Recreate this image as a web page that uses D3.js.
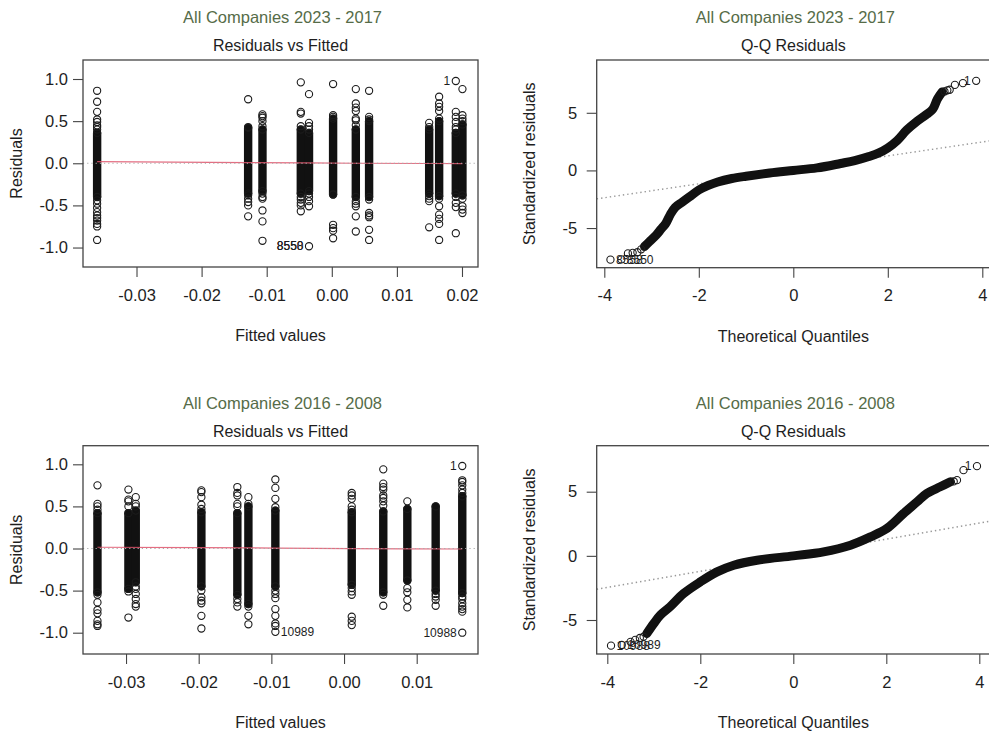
<!DOCTYPE html>
<html>
<head>
<meta charset="utf-8">
<script src="https://cdn.jsdelivr.net/npm/d3@7/dist/d3.min.js"></script>
<style>
  body { margin: 0; background: #fff; }
  text { font-family: "Liberation Sans", Arial, Helvetica, sans-serif; fill: #1e1e1e; }
</style>
</head>
<body>
<div id="chart"></div>
<script>
// ---- top panels: 2023 - 2017 ----
var fit1 = [-0.03605, -0.01285, -0.01065, -0.00476, -0.00350, 0.00020, 0.00369, 0.00573, 0.01496, 0.01649, 0.01905, 0.02007];
var coreLo1 = [-0.40, -0.36, -0.33, -0.36, -0.33, -0.37, -0.40, -0.40, -0.36, -0.39, -0.36, -0.38];
var coreHi1 = [0.36, 0.42, 0.40, 0.40, 0.36, 0.53, 0.40, 0.50, 0.40, 0.50, 0.36, 0.46];
var extra1 = [
  [0.86, 0.73, 0.61, 0.52, 0.49, 0.45, 0.43, 0.40, -0.44, -0.48, -0.53, -0.58, -0.62, -0.65, -0.68, -0.72, -0.75, -0.91],
  [0.76, 0.43, -0.38, -0.42, -0.46, -0.50, -0.63],
  [0.58, 0.56, 0.54, 0.50, 0.44, -0.36, -0.40, -0.42, -0.56, -0.69, -0.92],
  [0.96, 0.61, 0.59, 0.44, -0.40, -0.43, -0.47, -0.50, -0.57],
  [0.82, 0.48, 0.44, 0.40, -0.36, -0.40, -0.45, -0.51, -0.985],
  [0.94, 0.57, 0.55, -0.73, -0.77, -0.80, -0.89],
  [0.88, 0.71, 0.66, 0.62, 0.53, 0.51, 0.45, -0.45, -0.48, -0.51, -0.63, -0.81],
  [0.86, 0.55, 0.52, -0.43, -0.59, -0.62, -0.64, -0.79, -0.91],
  [0.48, 0.43, -0.39, -0.42, -0.45, -0.76],
  [0.79, 0.71, 0.67, 0.62, 0.53, -0.42, -0.51, -0.61, -0.66, -0.72, -0.91],
  [0.976, 0.61, 0.55, 0.49, 0.43, 0.40, -0.40, -0.47, -0.52, -0.83],
  [0.88, 0.57, 0.53, 0.50, -0.42, -0.51, -0.55, -0.59]
];
var smoothX1 = [-0.03605, -0.01285, -0.004, 0.0037, 0.015, 0.02007];
var smoothY1 = [0.02, 0.008, 0.004, 0.0, -0.003, -0.005];
var idLabels1 = [{c: 4, r: -0.985, t: "8558"}, {c: 4, r: -0.985, t: "8550"}, {c: 10, r: 0.976, t: "1"}];

var bandQ2 = [-3.15, -3.05, -2.9, -2.8, -2.7, -2.6, -2.5, -2.35, -2.2, -2.0, -1.8, -1.6, -1.3, -1.0, -0.5, 0, 0.5, 1.0, 1.3, 1.6, 1.8, 2.0, 2.2, 2.4, 2.6, 2.8, 2.95, 3.05, 3.15];
var bandS2 = [-6.6, -6.2, -5.6, -5.1, -4.6, -3.8, -3.2, -2.75, -2.3, -1.7, -1.3, -1.0, -0.7, -0.5, -0.22, 0, 0.22, 0.6, 0.85, 1.2, 1.5, 1.95, 2.6, 3.5, 4.2, 4.8, 5.3, 6.2, 6.8];
var tailQ2 = [-3.87, -3.64, -3.5, -3.4, -3.3, -3.22, 3.2, 3.26, 3.31, 3.42, 3.59, 3.87];
var tailS2 = [-7.74, -7.72, -7.2, -7.15, -7.1, -6.85, 6.85, 6.95, 7.0, 7.42, 7.57, 7.77];
var qqLabels2 = [{i: 0, t: "8558"}, {i: 1, t: "8550"}, {i: 11, t: "1"}];
var qqLine2 = {intercept: 0.05, slope: 0.605};

// ---- bottom panels: 2016 - 2008 ----
var fit3 = [-0.03393, -0.02967, -0.02866, -0.01963, -0.01468, -0.01316, -0.00945, 0.00106, 0.00540, 0.00871, 0.01261, 0.01627];
var coreLo3 = [-0.52, -0.48, -0.40, -0.45, -0.55, -0.66, -0.45, -0.43, -0.52, -0.38, -0.50, -0.53];
var coreHi3 = [0.42, 0.42, 0.45, 0.43, 0.42, 0.50, 0.45, 0.43, 0.44, 0.47, 0.50, 0.62];
var extra3 = [
  [0.75, 0.53, 0.50, 0.46, -0.55, -0.64, -0.73, -0.77, -0.86, -0.90, -0.92],
  [0.70, 0.58, 0.56, 0.50, -0.51, -0.82],
  [0.61, 0.53, 0.50, -0.45, -0.48, -0.54, -0.60, -0.66, -0.69],
  [0.69, 0.67, 0.61, 0.52, 0.47, -0.50, -0.58, -0.62, -0.65, -0.80, -0.95],
  [0.73, 0.66, 0.63, 0.53, 0.50, -0.60, -0.64, -0.69],
  [0.61, 0.53, -0.69, -0.80, -0.90],
  [0.82, 0.72, 0.59, 0.49, -0.50, -0.54, -0.59, -0.72, -0.80, -0.89, -0.92, -0.99],
  [0.66, 0.63, 0.59, 0.50, 0.46, -0.47, -0.51, -0.55, -0.81, -0.86, -0.91],
  [0.94, 0.77, 0.73, 0.70, 0.63, 0.60, 0.56, 0.51, -0.55, -0.68],
  [0.56, -0.47, -0.52, -0.61, -0.70],
  [-0.54, -0.57, -0.61, -0.68],
  [0.98, 0.81, 0.79, 0.75, 0.70, 0.66, -0.57, -0.60, -0.65, -0.69, -0.72, -0.75, -1.0]
];
var smoothX3 = [-0.03393, -0.01963, -0.00945, 0.00106, 0.00871, 0.01627];
var smoothY3 = [0.015, 0.01, 0.005, -0.002, -0.005, -0.006];
var idLabels3 = [{c: 6, r: -0.99, t: "10989"}, {c: 11, r: -1.0, t: "10988"}, {c: 11, r: 0.98, t: "1"}];

var bandQ4 = [-3.15, -3.0, -2.86, -2.65, -2.36, -2.0, -1.64, -1.28, -0.78, 0, 0.65, 1.23, 1.66, 2.01, 2.37, 2.66, 2.87, 3.16, 3.38];
var bandS4 = [-6.05, -5.27, -4.62, -3.97, -2.94, -2.03, -1.25, -0.73, -0.34, 0, 0.31, 0.83, 1.48, 2.13, 3.3, 4.2, 4.86, 5.38, 5.77];
var tailQ4 = [-3.92, -3.69, -3.5, -3.4, -3.3, -3.22, 3.45, 3.52, 3.66, 3.95];
var tailS4 = [-7.0, -6.95, -6.7, -6.55, -6.4, -6.3, 5.8, 5.9, 6.68, 6.99];
var qqLabels4 = [{i: 0, t: "10988"}, {i: 1, t: "10989"}, {i: 9, t: "1"}];
var qqLine4 = {intercept: 0.05, slope: 0.627};

var fitTicks1 = [-0.03, -0.02, -0.01, 0.00, 0.01, 0.02];
var fitTicks3 = [-0.03, -0.02, -0.01, 0.00, 0.01];
var resTicks = [-1.0, -0.5, 0.0, 0.5, 1.0];
var qTicks = [-4, -2, 0, 2, 4];
var sTicks = [-5, 0, 5];

var subtitles = ["All Companies 2023 - 2017", "All Companies 2016 - 2008"];

var svg = d3.select("#chart").append("svg")
  .attr("width", 989)
  .attr("height", 731);

var R = 3.6;

function panel(p) {
  var g = svg.append("g");
  var x = d3.scaleLinear().domain(p.xd).range([p.x0, p.x1]);
  var y = d3.scaleLinear().domain(p.yd).range([p.y1, p.y0]);
  var cx = (p.x0 + p.x1) / 2, cy = (p.y0 + p.y1) / 2;

  g.append("clipPath").attr("id", p.id)
    .append("rect").attr("x", p.x0).attr("y", p.y0)
    .attr("width", p.x1 - p.x0).attr("height", p.y1 - p.y0);

  // titles
  g.append("text").attr("x", cx + 2).attr("y", p.y0 - 37)
    .attr("text-anchor", "middle").style("font-size", "16.5px").style("fill", "#566c48")
    .text(p.sub);
  g.append("text").attr("x", cx).attr("y", p.y0 - 9)
    .attr("text-anchor", "middle").style("font-size", "16px")
    .text(p.title);
  g.append("text").attr("x", cx).attr("y", p.y1 + 74)
    .attr("text-anchor", "middle").style("font-size", "16px")
    .text(p.xlab);
  g.append("text")
    .attr("transform", "translate(" + p.ylabX + "," + cy + ") rotate(-90)")
    .attr("text-anchor", "middle").style("font-size", "16px")
    .text(p.ylab);

  // axes
  var ax = g.append("g").attr("transform", "translate(0," + p.y1 + ")")
    .call(d3.axisBottom(x).tickValues(p.xt).tickFormat(p.xf).tickSize(10).tickPadding(12));
  var ay = g.append("g").attr("transform", "translate(" + p.x0 + ",0)")
    .call(d3.axisLeft(y).tickValues(p.yt).tickFormat(p.yf).tickSize(10).tickPadding(p.yPad));
  [ax, ay].forEach(function(a) {
    a.select(".domain").remove();
    a.selectAll(".tick line").attr("stroke", "#444").attr("stroke-width", 1.1);
    a.selectAll(".tick text").style("font-size", "16.5px").style("font-family", null).attr("fill", null);
  });

  var plot = g.append("g").attr("clip-path", "url(#" + p.id + ")");
  p.draw(plot, x, y);

  g.append("rect").attr("x", p.x0).attr("y", p.y0)
    .attr("width", p.x1 - p.x0).attr("height", p.y1 - p.y0)
    .attr("fill", "none").attr("stroke", "#444").attr("stroke-width", 1.3);
  return {x: x, y: y, g: g};
}

function circles(sel, pts, x, y) {
  sel.selectAll(null).data(pts).enter().append("circle")
    .attr("cx", function(d) { return x(d[0]); })
    .attr("cy", function(d) { return y(d[1]); })
    .attr("r", R)
    .attr("fill", "none")
    .attr("stroke", "#1b1b1b")
    .attr("stroke-width", 1.1);
}

function residPanel(p, fit, lo, hi, extra, sx, sy, ids) {
  p.draw = function(plot, x, y) {
    plot.selectAll(null).data(fit).enter().append("rect")
      .attr("x", function(d) { return x(d) - R - 0.6; })
      .attr("width", 2 * R + 1.2)
      .attr("y", function(d, i) { return y(hi[i]) - R - 0.6; })
      .attr("height", function(d, i) { return y(lo[i]) - y(hi[i]) + 2 * R + 1.2; })
      .attr("rx", R + 0.6)
      .attr("fill", "#111");
    var pts = [];
    fit.forEach(function(f, i) {
      pts.push([f, lo[i]], [f, hi[i]]);
      extra[i].forEach(function(r) { pts.push([f, r]); });
    });
    circles(plot, pts, x, y);
    plot.append("path")
      .datum(sx.map(function(v, i) { return [v, sy[i]]; }))
      .attr("fill", "none").attr("stroke", "#DF536B").attr("stroke-width", 1.2).attr("opacity", 0.85)
      .attr("d", d3.line().x(function(d) { return x(d[0]); }).y(function(d) { return y(d[1]); }));
    plot.append("line")
      .attr("x1", p.x0).attr("x2", p.x1).attr("y1", y(0)).attr("y2", y(0))
      .attr("stroke", "#aaa").attr("stroke-dasharray", "1.2,3");
  };
  var res = panel(p);
  var mid = (d3.min(fit) + d3.max(fit)) / 2;
  res.g.selectAll(null).data(ids).enter().append("text")
    .attr("x", function(d) { var f = fit[d.c]; return x0(res.x(f), f > mid); })
    .attr("y", function(d) { return res.y(d.r); })
    .attr("dy", "0.35em")
    .attr("text-anchor", function(d) { return fit[d.c] > mid ? "end" : "start"; })
    .style("font-size", "12px")
    .text(function(d) { return d.t; });
}

function x0(px, left) { return left ? px - 5.5 : px + 5.5; }

function qqPanel(p, bq, bs, tq, ts, ids, ref) {
  p.draw = function(plot, x, y) {
    var xd = x.domain();
    plot.append("line")
      .attr("x1", x(xd[0])).attr("x2", x(xd[1]))
      .attr("y1", y(ref.intercept + ref.slope * xd[0]))
      .attr("y2", y(ref.intercept + ref.slope * xd[1]))
      .attr("stroke", "#999").attr("stroke-width", 1.4).attr("stroke-dasharray", "1.4,3");
    plot.append("path")
      .datum(bq.map(function(v, i) { return [v, bs[i]]; }))
      .attr("fill", "none").attr("stroke", "#111").attr("stroke-width", 9)
      .attr("stroke-linecap", "round").attr("stroke-linejoin", "round")
      .attr("d", d3.line().curve(d3.curveCatmullRom)
        .x(function(d) { return x(d[0]); }).y(function(d) { return y(d[1]); }));
    circles(plot, tq.map(function(v, i) { return [v, ts[i]]; }), x, y);
  };
  var res = panel(p);
  res.g.selectAll(null).data(ids).enter().append("text")
    .attr("x", function(d) { return x0(res.x(tq[d.i]), tq[d.i] > 0); })
    .attr("y", function(d) { return res.y(ts[d.i]); })
    .attr("dy", "0.35em")
    .attr("text-anchor", function(d) { return tq[d.i] > 0 ? "end" : "start"; })
    .style("font-size", "12px")
    .text(function(d) { return d.t; });
}

var f2 = d3.format(".2f"), f1 = d3.format(".1f"), f0 = d3.format("d");
function minus(f) { return function(v) { return f(v).replace("\u2212", "-"); }; }

residPanel({id: "c1", x0: 83, x1: 478, y0: 60, y1: 267, xd: [-0.03822, 0.02246], yd: [-1.231, 1.2255],
  xt: fitTicks1, yt: resTicks, xf: minus(f2), yf: minus(f1), yPad: 5,
  sub: subtitles[0], title: "Residuals vs Fitted", xlab: "Fitted values", ylab: "Residuals", ylabX: 22},
  fit1, coreLo1, coreHi1, extra1, smoothX1, smoothY1, idLabels1);

qqPanel({id: "c2", x0: 596.7, x1: 990, y0: 60, y1: 267.7, xd: [-4.161, 4.163], yd: [-8.44, 9.58],
  xt: qTicks, yt: sTicks, xf: minus(f0), yf: minus(f0), yPad: 9.5,
  sub: subtitles[0], title: "Q-Q Residuals", xlab: "Theoretical Quantiles", ylab: "Standardized residuals", ylabX: 535},
  bandQ2, bandS2, tailQ2, tailS2, qqLabels2, qqLine2);

residPanel({id: "c3", x0: 83, x1: 478, y0: 445.7, y1: 654, xd: [-0.03592, 0.018435], yd: [-1.253, 1.221],
  xt: fitTicks3, yt: resTicks, xf: minus(f2), yf: minus(f1), yPad: 5,
  sub: subtitles[1], title: "Residuals vs Fitted", xlab: "Fitted values", ylab: "Residuals", ylabX: 22},
  fit3, coreLo3, coreHi3, extra3, smoothX3, smoothY3, idLabels3);

qqPanel({id: "c4", x0: 596.7, x1: 990, y0: 445.7, y1: 654, xd: [-4.228, 4.23], yd: [-7.65, 8.585],
  xt: qTicks, yt: sTicks, xf: minus(f0), yf: minus(f0), yPad: 9.5,
  sub: subtitles[1], title: "Q-Q Residuals", xlab: "Theoretical Quantiles", ylab: "Standardized residuals", ylabX: 535},
  bandQ4, bandS4, tailQ4, tailS4, qqLabels4, qqLine4);
</script>
</body>
</html>
